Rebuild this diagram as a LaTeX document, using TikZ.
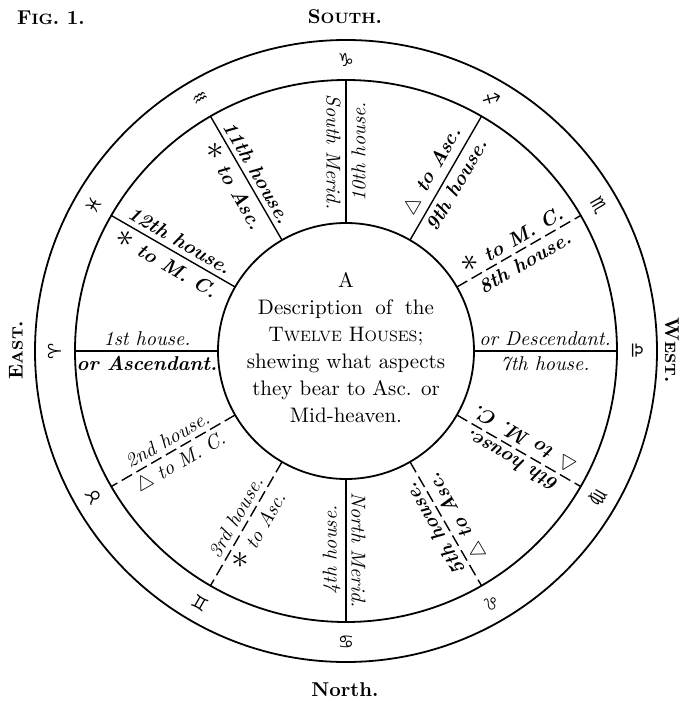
\documentclass[tikz,border=0pt]{standalone}
\usepackage{fontspec}
\newfontfamily\signfont{DejaVu Sans}
\newcommand\pcaps[1]{{\fontsize{7.5}{9}\selectfont #1}}
\newcommand\aster{{\fontsize{16}{16}\selectfont$\ast$}}
\newcommand\trine{$\bigtriangleup$}
\usetikzlibrary{calc}

\begin{document}
\begin{tikzpicture}[x=0.5pt, y=0.5pt,
  ring/.style={line width=0.9pt},
  cusp/.style={line width=0.7pt},
  cuspdash/.style={line width=0.7pt, dash pattern=on 6pt off 2.5pt},
  hlab/.style={font=\fontsize{10}{12}\selectfont\itshape, inner sep=2.5pt},
  hlabb/.style={hlab, font=\fontsize{10}{12}\selectfont\bfseries\itshape},
  sign/.style={font=\fontsize{9}{9}\signfont},
  compass/.style={font=\fontsize{10}{12}\selectfont\bfseries}]
\useasboundingbox (0,0) rectangle (685,703);
\coordinate (C) at (346,352);
% compass points
\node[compass] (fig) at (51,685) {F\pcaps{IG}. 1.};
\node[compass] (south) at (345,686) {S\pcaps{OUTH}.};
\node[compass] (north) at (345,13) {North.};
\node[compass, rotate=90] (east) at (16,353) {E\pcaps{AST}.};
\node[compass, rotate=-90] (west) at (672,353) {W\pcaps{EST}.};
\begin{scope}[shift={(C)}]
\draw[ring] (0,0) circle (311);
\draw[ring] (0,0) circle (271);
\draw[ring] (0,0) circle (128);
\foreach \a in {0,30,...,330} {
  \coordinate (in\a) at (\a:128);
  \coordinate (out\a) at (\a:271);
  \coordinate (mid\a) at (\a:199);
}
% cusps of the houses
\foreach \a in {0,60,90,120,150,180,270}
  \draw[cusp] (in\a) -- (out\a);
\foreach \a in {30,210,240,300,330}
  \draw[cuspdash] (in\a) -- (out\a);
% signs in the ring
\foreach \a/\g in {180/♈, 210/♉, 240/♊, 270/♋, 300/♌, 330/♍,
                   0/♎, 30/♏, 60/♐, 90/♑, 120/♒, 150/♓}
  \node[sign, rotate=\a-90] (sign\a) at (\a:291) {\g};
% the twelve houses
\node[hlab, anchor=south] (h1) at (mid180) {1st house.};
\node[hlabb, anchor=north] (a1) at (mid180) {or Ascendant.};
\node[hlab, rotate=30, anchor=south] (h2) at (mid210) {2nd house.};
\node[hlab, rotate=30, anchor=north] (a2) at (mid210) {\trine\ to M. C.};
\node[hlab, rotate=60, anchor=south] (h3) at (mid240) {3rd house.};
\node[hlab, rotate=60, anchor=north] (a3) at (mid240) {\aster\ to Asc.};
\node[hlab, rotate=90, anchor=south] (h4) at (mid270) {4th house.};
\node[hlab, rotate=-90, anchor=south] (a4) at (mid270) {North Merid.};
\node[hlabb, rotate=120, anchor=south] (h5) at (mid300) {5th house.};
\node[hlabb, rotate=120, anchor=north] (a5) at (mid300) {\trine\ to Asc.};
\node[hlabb, rotate=150, anchor=south] (h6) at (mid330) {6th house.};
\node[hlabb, rotate=150, anchor=north] (a6) at (mid330) {\trine\ to M. C.};
\node[hlab, anchor=north] (h7) at (mid0) {7th house.};
\node[hlab, anchor=south] (a7) at (mid0) {or Descendant.};
\node[hlabb, rotate=30, anchor=north] (h8) at (mid30) {8th house.};
\node[hlabb, rotate=30, anchor=south] (a8) at (mid30) {\aster\ to M. C.};
\node[hlabb, rotate=60, anchor=north] (h9) at (mid60) {9th house.};
\node[hlabb, rotate=60, anchor=south] (a9) at (mid60) {\trine\ to Asc.};
\node[hlab, rotate=90, anchor=north] (h10) at (mid90) {10th house.};
\node[hlab, rotate=-90, anchor=north] (a10) at (mid90) {South Merid.};
\node[hlabb, rotate=-60, anchor=south] (h11) at (mid120) {11th house.};
\node[hlabb, rotate=-60, anchor=north] (a11) at (mid120) {\aster\ to Asc.};
\node[hlabb, rotate=-30, anchor=south] (h12) at (mid150) {12th house.};
\node[hlabb, rotate=-30, anchor=north] (a12) at (mid150) {\aster\ to M. C.};
% description in the middle
\node[align=center, font=\fontsize{10.5}{13.5}\selectfont] (desc) at (0,3)
  {A\\ \makebox[88pt][s]{Description of the}\\ T\pcaps{WELVE} H\pcaps{OUSES};\\
   shewing what aspects\\ they bear to Asc. or\\ Mid-heaven.};
\end{scope}
\end{tikzpicture}
\end{document}
